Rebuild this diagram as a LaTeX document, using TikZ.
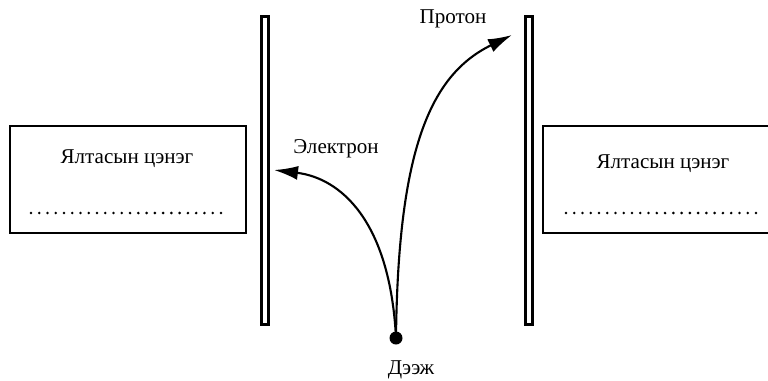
\documentclass[tikz,border=0pt]{standalone}
\usepackage{fontspec}
\setmainfont{Liberation Serif}
\usetikzlibrary{arrows.meta, positioning, calc}

\begin{document}
\begin{tikzpicture}[
    x=0.02cm, y=-0.02cm,
    chargebox/.style={draw, line width=0.7pt, minimum width=4.72cm,
                      minimum height=2.14cm, inner sep=0pt},
    plate/.style={draw, line width=1.8pt, minimum width=0.144cm,
                  minimum height=6.16cm, inner sep=0pt},
    txt/.style={font=\fontsize{12}{14}\selectfont, inner sep=1pt},
    blank/.style={line width=1.6pt, dash pattern=on 0pt off 4.7pt, line cap=round},
    track/.style={line width=1.2pt, -{Latex[length=4.8mm, width=2.8mm]}}
  ]
  \useasboundingbox (0,0) rectangle (768,380);

  % charge boxes and plates
  \node[chargebox] (leftbox)  at (128,179.5) {};
  \node[chargebox] (rightbox) at (661,179.5) {};
  \node[plate] (leftplate)  at (265,170.5) {};
  \node[plate] (rightplate) at (529,170.5) {};

  \node[txt] (leftcharge)  at (127,159) {Ялтасын цэнэг};
  \node[txt] (rightcharge) at (663,164) {Ялтасын цэнэг};
  \coordinate (lb1) at (31,213);  \coordinate (lb2) at (227,213);
  \coordinate (rb1) at (566,213); \coordinate (rb2) at (760,213);
  \draw[blank] (lb1) -- (lb2);
  \draw[blank] (rb1) -- (rb2);

  % sample and tracks
  \node[circle, fill, inner sep=0pt, minimum size=0.26cm] (sample) at (396,338) {};
  \node[txt] (samplelbl) at (411,370) {Дээж};
  \coordinate (electronend) at (274,170);
  \coordinate (protonend)   at (512,35);

  \draw[track] (sample.center) .. controls (390,220) and (340,178) .. (electronend);
  \draw[track] (sample.center) .. controls (398,150) and (430,75) .. (protonend);

  \node[txt] (electronlbl) at (336,149) {Электрон};
  \node[txt] (protonlbl)   at (453,19)  {Протон};

\end{tikzpicture}
\end{document}
